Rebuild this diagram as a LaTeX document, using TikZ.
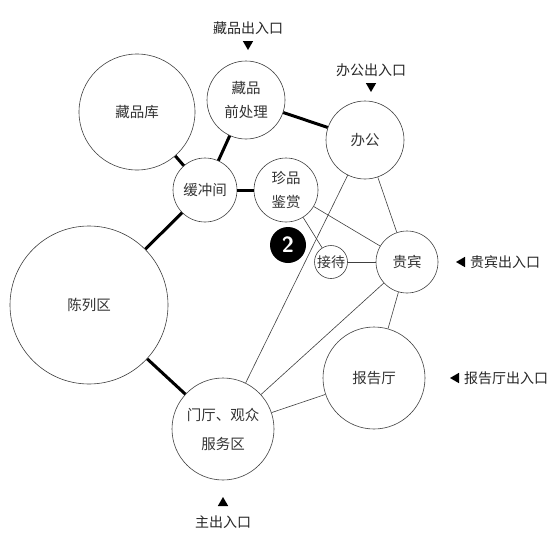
\documentclass[tikz,border=0pt]{standalone}
\usepackage{fontspec}
\newfontfamily\cjk{Noto Sans CJK SC}
\usetikzlibrary{shapes.geometric}
\begin{document}
\begin{tikzpicture}[x=1pt,y=-1pt,
  zone/.style={circle, draw=black!75, line width=0.6pt, inner sep=0pt, align=center,
    text=black!80, font=\cjk\fontsize{14.5}{24}\selectfont},
  lbl/.style={inner sep=0pt, text=black!85, font=\cjk\fontsize{14}{17}\selectfont},
  tri/.style={regular polygon, regular polygon sides=3, fill=black, inner sep=0pt, minimum size=12pt},
  heavy/.style={line width=3pt, black},
  light/.style={line width=0.6pt, black!75}]
\useasboundingbox (0,0) rectangle (554,546);
\fill[white] (0,0) rectangle (554,546);
% zones
\node[zone, minimum size=116pt] (ku) at (137,112) {藏品库};
\node[zone, minimum size=78pt] (qian) at (246,100) {藏品\\前处理};
\node[zone, minimum size=78pt] (ban) at (365,140) {办公};
\node[zone, minimum size=64pt] (huan) at (205,190) {缓冲间};
\node[zone, minimum size=64pt] (zhen) at (286,190) {珍品\\鉴赏};
\node[zone, minimum size=33pt, font=\cjk\fontsize{14}{17}\selectfont] (jie) at (331,262) {接待};
\node[zone, minimum size=62pt] (gui) at (407,262) {贵宾};
\node[zone, minimum size=158pt] (chen) at (89,305) {陈列区};
\node[zone, minimum size=102pt] (bao) at (374,378) {报告厅};
\node[zone, minimum size=102pt, font=\cjk\fontsize{14.5}{29}\selectfont] (men) at (223,429) {门厅、观众\\服务区};
% badge
\node[circle, fill=black, minimum size=36pt, inner sep=0pt, text=white,
  font=\sffamily\bfseries\fontsize{22}{22}\selectfont] (two) at (288,245) {2};
% connections
\draw[heavy] (ku) -- (huan);
\draw[heavy] (qian) -- (huan);
\draw[heavy] (qian) -- (ban);
\draw[heavy] (huan) -- (zhen);
\draw[heavy] (huan) -- (chen);
\draw[heavy] (chen) -- (men);
\draw[light] (zhen) -- (jie);
\draw[light] (zhen) -- (gui);
\draw[light] (jie) -- (gui);
\draw[light] (ban) -- (gui);
\draw[light] (ban) -- (men);
\draw[light] (gui) -- (men);
\draw[light] (gui) -- (bao);
\draw[light] (bao) -- (men);
% entrances
\node[lbl] (l1) at (248,28) {藏品出入口};
\node[tri, shape border rotate=180] (t1) at (248,44) {};
\node[lbl] (l2) at (371,70) {办公出入口};
\node[tri, shape border rotate=180] (t2) at (371,86) {};
\node[tri, shape border rotate=90] (t3) at (462,262) {};
\node[lbl] (l3) at (505,262) {贵宾出入口};
\node[tri, shape border rotate=90] (t4) at (456,378) {};
\node[lbl] (l4) at (506,378) {报告厅出入口};
\node[tri] (t5) at (223,503) {};
\node[lbl] (l5) at (223,522) {主出入口};
\end{tikzpicture}
\end{document}
